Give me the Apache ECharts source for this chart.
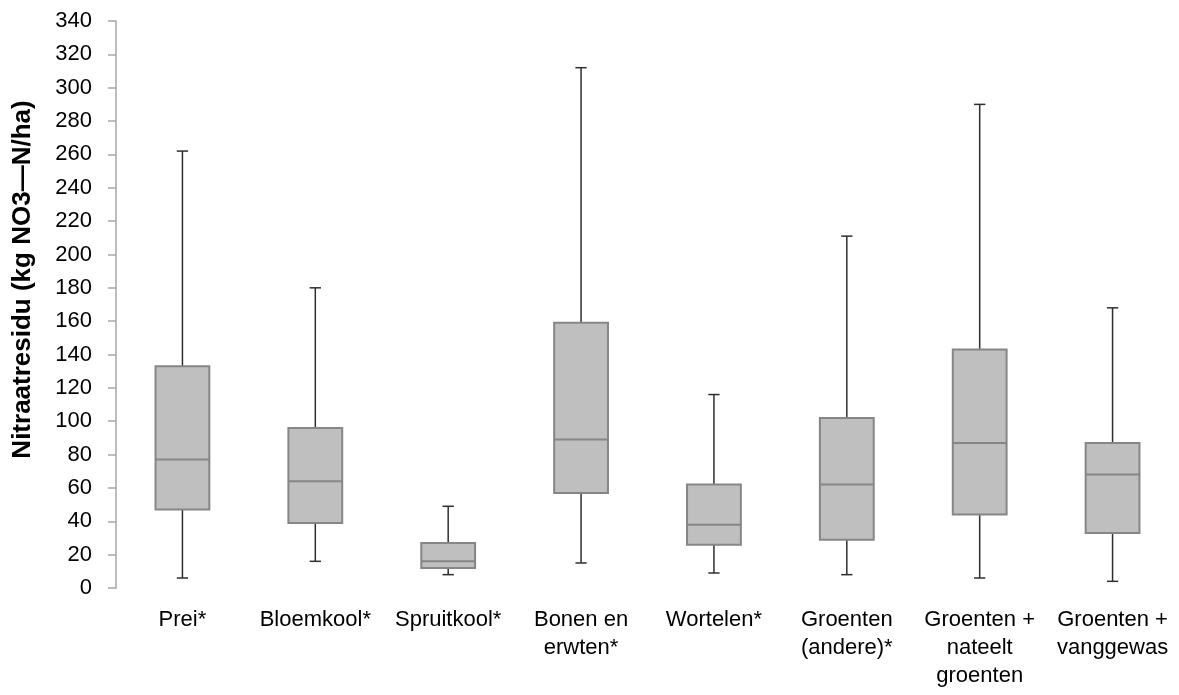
<!DOCTYPE html>
<html>
<head>
<meta charset="utf-8">
<script src="https://cdn.jsdelivr.net/npm/echarts@6/dist/echarts.min.js"></script>
<style>
  html, body { margin: 0; padding: 0; background: #ffffff; }
  #chart { width: 1179px; height: 695px; }
</style>
</head>
<body>
<div id="chart"></div>
<script>
// ---- data ----
const categories = [
  "Prei*",
  "Bloemkool*",
  "Spruitkool*",
  "Bonen en\nerwten*",
  "Wortelen*",
  "Groenten\n(andere)*",
  "Groenten +\nnateelt\ngroenten",
  "Groenten +\nvanggewas"
];
const minValues    = [6, 16, 8, 15, 9, 8, 6, 4];
const q1Values     = [47, 39, 12, 57, 26, 29, 44, 33];
const medianValues = [77, 64, 16, 89, 38, 62, 87, 68];
const q3Values     = [133, 96, 27, 159, 62, 102, 143, 87];
const maxValues    = [262, 180, 49, 312, 116, 211, 290, 168];
const yTicks = { min: 0, max: 340, interval: 20 };
const yAxisTitle = "Nitraatresidu (kg NO3\u2014N/ha)";

// ---- build series data ----
const boxData = categories.map((c, i) => [i, minValues[i], q1Values[i], medianValues[i], q3Values[i], maxValues[i]]);

const FONT = "'Liberation Sans', Arial, sans-serif";

function renderBox(params, api) {
  const i = api.value(0);
  const pMin = api.coord([i, api.value(1)]);
  const pQ1 = api.coord([i, api.value(2)]);
  const pMed = api.coord([i, api.value(3)]);
  const pQ3 = api.coord([i, api.value(4)]);
  const pMax = api.coord([i, api.value(5)]);
  const band = api.size([1, 0])[0];
  const bw = band * 0.405;
  const cw = band * 0.085;
  const x = pMed[0];
  const whiskerStyle = { stroke: '#2e2e2e', lineWidth: 1.5 };
  const boxStroke = '#868686';
  return {
    type: 'group',
    children: [
      { type: 'line', shape: { x1: x, y1: pQ3[1], x2: x, y2: pMax[1] }, style: whiskerStyle },
      { type: 'line', shape: { x1: x, y1: pQ1[1], x2: x, y2: pMin[1] }, style: whiskerStyle },
      { type: 'line', shape: { x1: x - cw / 2, y1: pMax[1], x2: x + cw / 2, y2: pMax[1] }, style: whiskerStyle },
      { type: 'line', shape: { x1: x - cw / 2, y1: pMin[1], x2: x + cw / 2, y2: pMin[1] }, style: whiskerStyle },
      { type: 'rect', shape: { x: x - bw / 2, y: pQ3[1], width: bw, height: pQ1[1] - pQ3[1] },
        style: { fill: '#bfbfbf', stroke: boxStroke, lineWidth: 2 } },
      { type: 'line', shape: { x1: x - bw / 2, y1: pMed[1], x2: x + bw / 2, y2: pMed[1] },
        style: { stroke: boxStroke, lineWidth: 2 } }
    ]
  };
}

const chart = echarts.init(document.getElementById('chart'), null, { renderer: 'canvas' });
chart.setOption({
  animation: false,
  backgroundColor: '#ffffff',
  grid: { left: 116, right: 0, top: 21, bottom: 107, containLabel: false },
  xAxis: {
    type: 'category',
    data: categories,
    axisLine: { show: false },
    axisTick: { show: false },
    axisLabel: {
      interval: 0,
      color: '#000000',
      fontFamily: FONT,
      fontSize: 22,
      lineHeight: 28,
      margin: 18
    },
    splitLine: { show: false }
  },
  yAxis: {
    type: 'value',
    min: yTicks.min,
    max: yTicks.max,
    interval: yTicks.interval,
    name: yAxisTitle,
    nameLocation: 'middle',
    nameGap: 80,
    nameTextStyle: {
      color: '#000000',
      fontFamily: FONT,
      fontWeight: 'bold',
      fontSize: 26,
      padding: [0, 0, 0, 50]
    },
    axisLine: { show: true, lineStyle: { color: '#a6a6a6', width: 1.5 } },
    axisTick: { show: true, length: 8, lineStyle: { color: '#a6a6a6', width: 1.5 } },
    axisLabel: { color: '#000000', fontFamily: FONT, fontSize: 22, margin: 24 },
    splitLine: { show: false }
  },
  series: [{
    type: 'custom',
    renderItem: renderBox,
    encode: { x: 0, y: [1, 2, 3, 4, 5] },
    data: boxData,
    clip: false
  }]
});
</script>
</body>
</html>
